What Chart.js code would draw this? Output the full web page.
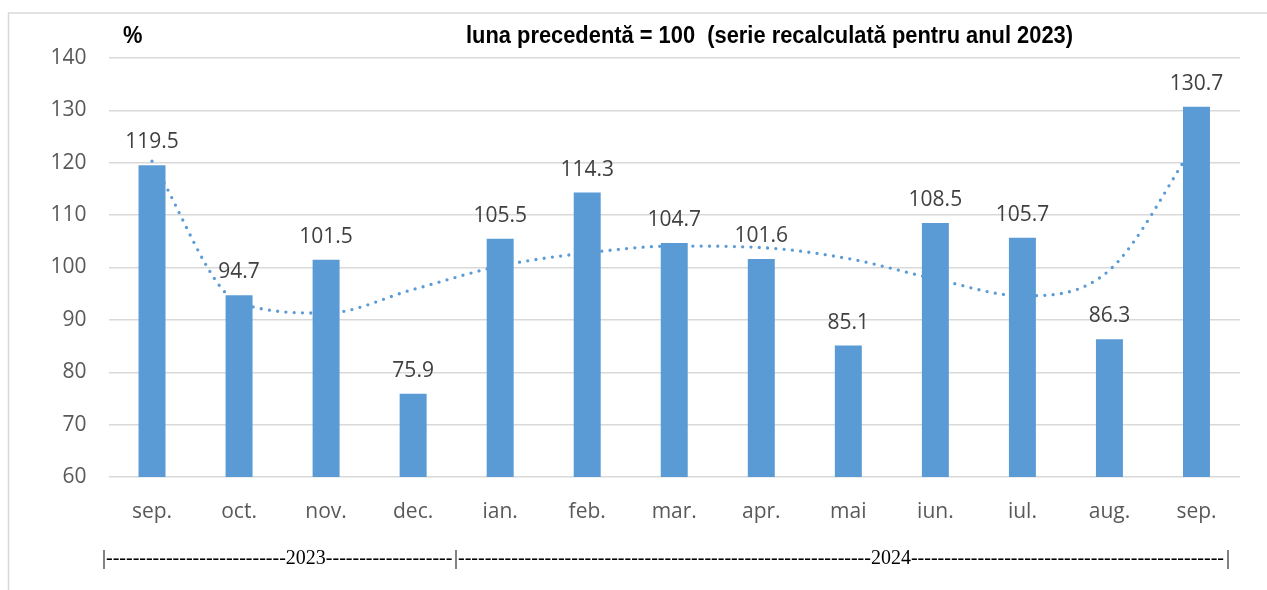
<!DOCTYPE html>
<html>
<head>
<meta charset="utf-8">
<script src="https://cdn.jsdelivr.net/npm/chart.js@4"></script>
<style>
  html, body { margin: 0; padding: 0; background: #fff; overflow: hidden; }
  #wrap { position: relative; width: 1267px; height: 590px; }
</style>
</head>
<body>
<div id="wrap"><canvas id="grafic" width="1267" height="590"></canvas></div>
<script>
// date: indicii lunari (luna precedenta = 100)
const luni = ['sep.', 'oct.', 'nov.', 'dec.', 'ian.', 'feb.', 'mar.', 'apr.', 'mai', 'iun.', 'iul.', 'aug.', 'sep.'];
const indici = [119.5, 94.7, 101.5, 75.9, 105.5, 114.3, 104.7, 101.6, 85.1, 108.5, 105.7, 86.3, 130.7];
// linia de tendinta
const tendinta = [120.3, 93.3, 91.3, 95.8, 100.3, 102.8, 104.1, 103.8, 101.7, 97.8, 94.6, 99.5, 124];
const axaY = [60, 70, 80, 90, 100, 110, 120, 130, 140];
const titlu = 'luna precedentă = 100  (serie recalculată pentru anul 2023)';
const ani = ['2023', '2024'];

const albastru = '#5B9BD5';
const gri = '#d9d9d9';

// chenar, titlu, etichete de valori si randul cu anii
const decor = {
  id: 'decor',
  beforeDraw(chart) {
    const c = chart.ctx;
    c.save();
    c.strokeStyle = gri;
    c.lineWidth = 1.5;
    c.beginPath();
    c.moveTo(8.5, 600);
    c.lineTo(8.5, 13);
    c.lineTo(1270, 13);
    c.stroke();
    c.restore();
  },
  afterDatasetsDraw(chart) {
    const c = chart.ctx;
    const meta = chart.getDatasetMeta(0);
    c.save();
    c.font = '21px "Open Sans"';
    c.fillStyle = '#404040';
    c.textAlign = 'center';
    c.textBaseline = 'alphabetic';
    meta.data.forEach((bar, i) => {
      c.fillText(indici[i].toFixed(1), bar.x, bar.y - 17);
    });
    c.restore();
  },
  afterDraw(chart) {
    const c = chart.ctx;
    c.save();
    // titlu ingust, bold
    c.font = 'bold 23px "Liberation Sans"';
    c.fillStyle = '#000';
    c.textBaseline = 'alphabetic';
    const w = c.measureText(titlu).width;
    const sx = 607 / w;
    c.save();
    c.translate(466, 43);
    c.scale(sx, 1);
    c.fillText(titlu, 0, 0);
    c.restore();
    c.save();
    c.translate(123, 43);
    c.scale(sx, 1);
    c.fillText('%', 0, 0);
    c.restore();

    // |-----2023-----|-----2024-----|
    c.font = '20px "Liberation Serif"';
    c.fillStyle = '#000';
    const y = 564;
    const bare = [104, 456, 1228];
    const centre = [305, 892];
    const dw = c.measureText('-').width;
    c.textAlign = 'center';
    bare.forEach(x => c.fillText('|', x, y));
    c.textAlign = 'left';
    ani.forEach((an, i) => {
      const aw = c.measureText(an).width;
      const st = bare[i] + 2;
      const n1 = Math.round((centre[i] - aw / 2 - st) / dw);
      c.fillText('-'.repeat(n1), st, y);
      const a0 = st + n1 * dw;
      c.fillText(an, a0, y);
      const a1 = a0 + aw;
      const n2 = Math.round((bare[i + 1] - 2 - a1) / dw);
      c.fillText('-'.repeat(n2), a1, y);
    });
    c.restore();
  }
};

new Chart(document.getElementById('grafic'), {
  type: 'bar',
  data: {
    labels: luni,
    datasets: [{
      label: 'indice',
      data: indici,
      backgroundColor: albastru,
      barPercentage: 0.31,
      categoryPercentage: 1,
      order: 0
    }, {
      type: 'line',
      label: 'tendinta',
      data: tendinta,
      borderColor: albastru,
      borderWidth: 3.3,
      borderDash: [0, 8.3],
      borderCapStyle: 'round',
      pointRadius: 0,
      cubicInterpolationMode: 'monotone',
      fill: false,
      order: 1
    }]
  },
  options: {
    responsive: false,
    animation: false,
    events: [],
    layout: { padding: { left: 0, right: 27, top: 58, bottom: 0 } },
    plugins: {
      legend: { display: false },
      title: { display: false },
      tooltip: { enabled: false }
    },
    scales: {
      x: {
        grid: { display: false },
        border: { display: false },
        ticks: {
          color: '#595959',
          font: { family: 'Open Sans', size: 21 },
          padding: 14,
          maxRotation: 0
        },
        afterFit(s) { s.height = 113; }
      },
      y: {
        min: axaY[0],
        max: axaY[axaY.length - 1],
        afterBuildTicks(s) { s.ticks = axaY.map(v => ({ value: v })); },
        grid: { color: gri, lineWidth: 1.5, drawTicks: false },
        border: { display: false },
        ticks: {
          color: '#595959',
          font: { family: 'Open Sans', size: 21 },
          padding: 22
        },
        afterFit(s) { s.width = 108.5; }
      }
    }
  },
  plugins: [decor]
});
</script>
</body>
</html>
